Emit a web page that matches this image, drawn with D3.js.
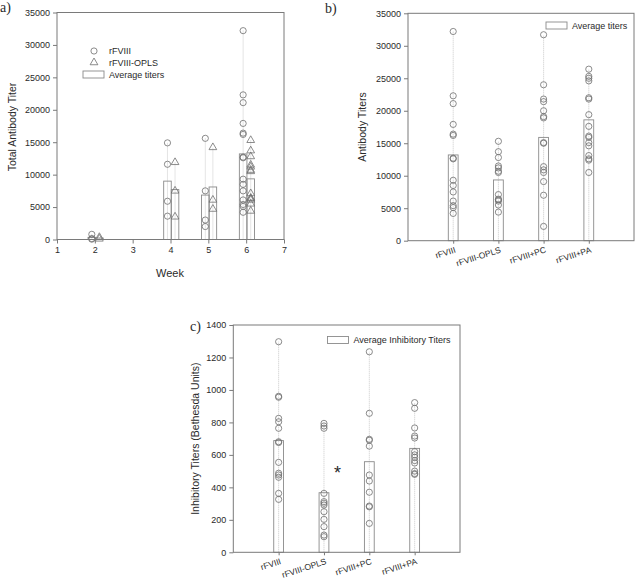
<!DOCTYPE html>
<html><head><meta charset="utf-8">
<script src="https://cdn.jsdelivr.net/npm/d3@7"></script>
<style>body{margin:0;background:#fff;} svg{display:block;}</style>
</head><body>
<svg id="chart" width="636" height="579"></svg>
<script>
// ---------- DATA ----------
const weeks = [2, 4, 5, 6];
const weekTicks = [1, 2, 3, 4, 5, 6, 7];
const titerTicks = [0, 5000, 10000, 15000, 20000, 25000, 30000, 35000];
const inhTicks = [0, 200, 400, 600, 800, 1000, 1200, 1400];
const groups = ["rFVIII", "rFVIII-OPLS", "rFVIII+PC", "rFVIII+PA"];

const titerRFVIII = [32200, 22300, 21100, 17900, 16400, 16200, 12700, 12600, 9300, 8500, 7500, 6100, 5400, 5100, 4200];
const titerOPLS = [15300, 13700, 12800, 11500, 11200, 10700, 10500, 7100, 6400, 6300, 6100, 5500, 4400];
const titerPC = [31700, 24000, 21800, 21400, 20000, 19100, 18900, 15100, 15000, 11400, 10900, 10500, 9100, 7000, 2200];
const titerPA = [26400, 25300, 25000, 24600, 22000, 21800, 19400, 17600, 16100, 15900, 15100, 14600, 13100, 12600, 12400, 10500];
const meanTiters = [13200, 9350, 15900, 18600];

const week2RFVIII = [800, 150, 50];
const week2OPLS = [350, 100];
const week4RFVIII = [14900, 11600, 5900, 3600];
const week4OPLS = [11900, 7500, 3500];
const week5RFVIII = [15600, 7500, 3000, 2000];
const week5OPLS = [14200, 6100, 4700];
const weekRFVIII = [week2RFVIII, week4RFVIII, week5RFVIII, titerRFVIII];
const weekOPLS = [week2OPLS, week4OPLS, week5OPLS, titerOPLS];
const meanWeekRFVIII = [330, 9000, 6850, 13200];
const meanWeekOPLS = [230, 7700, 8100, 9350];

const inhRFVIII = [1297, 961, 955, 825, 804, 764, 681, 676, 554, 487, 476, 462, 363, 326];
const inhOPLS = [794, 778, 764, 363, 312, 302, 291, 250, 203, 158, 106, 96];
const inhPC = [1235, 856, 696, 690, 654, 476, 439, 370, 285, 280, 178];
const inhPA = [922, 887, 766, 716, 704, 620, 600, 585, 565, 550, 500, 485, 480];
const meanInh = [688, 367, 558, 640];

// ---------- STYLE ----------
const AX = "#7a7a7a", PT = "#6e6e6e", BAR = "#8a8a8a", DOT = "#bdbdbd", TXT = "#2a2a2a";
const FONT = "'Liberation Sans', Arial, sans-serif";
const svg = d3.select("#chart");

function frame(g, x0, x1, y0, y1) {
  g.append("rect").attr("x", x0).attr("y", y1).attr("width", x1 - x0).attr("height", y0 - y1)
    .attr("fill", "none").attr("stroke", AX).attr("stroke-width", 1);
}
function styleAxis(sel) {
  sel.select(".domain").remove();
  sel.selectAll(".tick line").attr("stroke", AX);
  sel.selectAll(".tick text").attr("fill", TXT).attr("font-family", FONT).attr("font-size", 9);
}
function yAxis(g, y, x0, ticks) {
  const a = g.append("g").attr("transform", `translate(${x0},0)`)
    .call(d3.axisLeft(y).tickValues(ticks).tickFormat(d3.format("d")).tickSize(4).tickPadding(3));
  styleAxis(a);
}
function drawPoints(g, cx, vals, y, shape) {
  if (shape === "tri") {
    g.selectAll(null).data(vals).join("path")
      .attr("d", d3.symbol(d3.symbolTriangle, 26))
      .attr("transform", d => `translate(${cx},${y(d)})`)
      .attr("fill", "none").attr("stroke", PT).attr("stroke-width", 0.8);
  } else {
    g.selectAll(null).data(vals).join("circle")
      .attr("cx", cx).attr("cy", d => y(d)).attr("r", 3.1)
      .attr("fill", "none").attr("stroke", PT).attr("stroke-width", 0.8);
  }
}
function dotLine(g, cx, vals, y) {
  g.append("line").attr("x1", cx).attr("x2", cx)
    .attr("y1", y(0)).attr("y2", y(d3.max(vals)))
    .attr("stroke", DOT).attr("stroke-width", 0.8).attr("stroke-dasharray", "1,1");
}
function bar(g, xl, w, v, y) {
  g.append("rect").attr("x", xl).attr("width", w)
    .attr("y", y(v)).attr("height", y(0) - y(v))
    .attr("fill", "none").attr("stroke", BAR).attr("stroke-width", 0.9);
}
function text(g, x, yy, s, size, opts = {}) {
  const t = g.append("text").attr("x", x).attr("y", yy).text(s)
    .attr("font-family", opts.font || FONT).attr("font-size", size).attr("fill", TXT)
    .attr("text-anchor", opts.anchor || "start");
  if (opts.rotate) t.attr("transform", `rotate(${opts.rotate},${x},${yy})`);
  if (opts.db) t.attr("dominant-baseline", opts.db);
  return t;
}

// ---------- PANEL A ----------
{
  const g = svg.append("g");
  const x = d3.scaleLinear().domain([1, 7]).range([57, 284]);
  const y = d3.scaleLinear().domain([0, 35000]).range([239.5, 12.5]);
  const bw = x(1.2) - x(1);
  weeks.forEach((w, i) => {
    dotLine(g, x(w - 0.08), weekRFVIII[i], y);
    dotLine(g, x(w + 0.12), weekOPLS[i], y);
    bar(g, x(w - 0.18), bw, meanWeekRFVIII[i], y);
    bar(g, x(w + 0.02), bw, meanWeekOPLS[i], y);
  });
  weeks.forEach((w, i) => {
    drawPoints(g, x(w - 0.08), weekRFVIII[i], y, "circle");
    drawPoints(g, x(w + 0.12), weekOPLS[i], y, "tri");
  });
  frame(g, 57, 284, 239.5, 12.5);
  yAxis(g, y, 57, titerTicks);
  const xa = g.append("g").attr("transform", "translate(0,239.5)")
    .call(d3.axisBottom(x).tickValues(weekTicks).tickFormat(d3.format("d")).tickSize(4).tickPadding(3));
  styleAxis(xa);
  text(g, 170, 277, "Week", 11, {anchor: "middle"});
  text(g, 16, 127, "Total Antibody Titer", 10.5, {anchor: "middle", rotate: -90});
  text(g, 0, 12, "a)", 14, {font: "'Liberation Serif', 'Times New Roman', serif"});
  // legend
  const lg = g.append("g");
  lg.append("circle").attr("cx", 94).attr("cy", 51).attr("r", 3.1).attr("fill", "none").attr("stroke", PT).attr("stroke-width", 0.8);
  lg.append("path").attr("d", d3.symbol(d3.symbolTriangle, 26)).attr("transform", "translate(94,62.5)")
    .attr("fill", "none").attr("stroke", PT).attr("stroke-width", 0.8);
  lg.append("rect").attr("x", 83).attr("y", 71).attr("width", 21).attr("height", 7).attr("fill", "none").attr("stroke", BAR).attr("stroke-width", 0.9);
  text(lg, 109, 51, "rFVIII", 9, {db: "central"});
  text(lg, 109, 62.5, "rFVIII-OPLS", 9, {db: "central"});
  text(lg, 109, 74.5, "Average titers", 9, {db: "central"});
}

// ---------- GROUP PANEL helper ----------
function groupPanel(cfg) {
  const g = svg.append("g");
  const x = d3.scalePoint().domain(groups).range([cfg.x0, cfg.x1]).padding(1);
  const y = d3.scaleLinear().domain(cfg.domain).range([cfg.y0, cfg.y1]);
  const bw = 9.8;
  groups.forEach((k, i) => {
    dotLine(g, x(k), cfg.vals[i], y);
    bar(g, x(k) - bw / 2, bw, cfg.means[i], y);
  });
  groups.forEach((k, i) => drawPoints(g, x(k), cfg.vals[i], y, "circle"));
  frame(g, cfg.x0, cfg.x1, cfg.y0, cfg.y1);
  yAxis(g, y, cfg.x0, cfg.ticks);
  const xa = g.append("g").attr("transform", `translate(0,${cfg.y0})`)
    .call(d3.axisBottom(x).tickSize(3).tickFormat(""));
  styleAxis(xa);
  groups.forEach(k => {
    text(g, x(k) + 3, cfg.y0 + 11.5, k, 8.5, {anchor: "end", rotate: -18});
  });
  text(g, cfg.titleX, (cfg.y0 + cfg.y1) / 2, cfg.title, 10.5, {anchor: "middle", rotate: -90});
  text(g, cfg.letterX, cfg.letterY, cfg.letter, 14, {font: "'Liberation Serif', 'Times New Roman', serif"});
  g.append("rect").attr("x", cfg.legX).attr("y", cfg.legY - 3.5).attr("width", 21).attr("height", 7)
    .attr("fill", "none").attr("stroke", BAR).attr("stroke-width", 0.9);
  text(g, cfg.legX + 26, cfg.legY, cfg.legend, 9, {db: "central"});
  return {g, x, y};
}

// ---------- PANEL B ----------
groupPanel({
  x0: 408, x1: 634, y0: 240.7, y1: 13.3, domain: [0, 35000], ticks: titerTicks,
  vals: [titerRFVIII, titerOPLS, titerPC, titerPA], means: meanTiters,
  title: "Antibody Titers", titleX: 366, letter: "b)", letterX: 325, letterY: 13,
  legX: 546, legY: 25.5, legend: "Average titers"
});

// ---------- PANEL C ----------
const pc = groupPanel({
  x0: 233.3, x1: 460, y0: 552.3, y1: 325, domain: [0, 1400], ticks: inhTicks,
  vals: [inhRFVIII, inhOPLS, inhPC, inhPA], means: meanInh,
  title: "Inhibitory Titers (Bethesda Units)", titleX: 199, letter: "c)", letterX: 190, letterY: 331,
  legX: 327.5, legY: 340, legend: "Average Inhibitory Titers"
});
text(pc.g, 337.5, 479, "*", 18, {anchor: "middle"});
</script>
</body></html>
